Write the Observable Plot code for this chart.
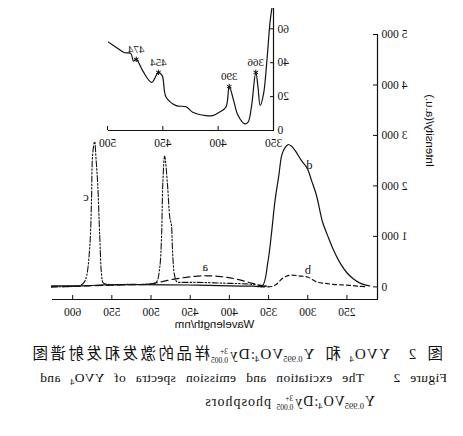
<!DOCTYPE html>
<html><head><meta charset="utf-8">
<script src="https://cdn.jsdelivr.net/npm/d3@7"></script>
<script src="https://cdn.jsdelivr.net/npm/@observablehq/plot@0.6"></script>
<style>
body{margin:0;background:#fff;}
#fig{position:relative;width:463px;height:436px;transform:scaleX(-1);background:#fff;overflow:hidden;}
#main,#inset{position:absolute;left:0;top:0;}
.cap{position:absolute;font-family:"Liberation Serif","Noto Sans CJK SC",serif;color:#111;white-space:nowrap;}
.zh{display:inline-block;font-family:"Noto Sans CJK SC",serif;letter-spacing:2.5px;font-size:15.5px;}
.ss{display:inline-block;vertical-align:middle;font-size:7.5px;text-align:left;margin:0 1px;letter-spacing:0;}
.ss span{display:block;line-height:9px;height:9px;}
sub{font-size:8.5px;vertical-align:-3px;line-height:0;letter-spacing:0;}
#c1{left:20px;top:343px;width:413px;font-size:15px;line-height:18px;letter-spacing:1.2px;text-align:justify;text-align-last:justify;}
#c2{left:16px;top:369px;width:407px;font-size:13.5px;line-height:18px;letter-spacing:0.3px;text-align:justify;text-align-last:justify;}
#c3{left:88px;top:393px;font-size:14px;line-height:18px;letter-spacing:1px;}
</style></head>
<body>
<div id="fig">
  <div id="main"></div>
  <div id="inset"></div>
  <div class="cap" id="c1"><span class="zh">图</span> 2 &nbsp;YVO<sub>4</sub> <span class="zh">和</span> Y<sub>0.995</sub>VO<sub>4</sub>:Dy<span class="ss"><span>3+</span><span>0.005</span></span><span class="zh">样品的激发和发射谱图</span></div>
  <div class="cap" id="c2">Figure 2 &nbsp; The excitation and emission spectra of YVO<sub>4</sub> and</div>
  <div class="cap" id="c3">Y<sub>0.995</sub>VO<sub>4</sub>:Dy<span class="ss"><span>3+</span><span>0.005</span></span> phosphors</div>
</div>
<script>
// ---- main chart data ----
const xTicks = [250, 300, 350, 400, 450, 500, 550, 600];
const yTicks = [0, 1000, 2000, 3000, 4000, 5000];

// curve a: YVO4 emission (dashed)
const aW = [627, 600, 580, 560, 540, 520, 502, 490, 472, 455, 440, 429, 415, 403, 390, 378, 368, 361, 352];
const aV = [0, 10, 20, 30, 40, 45, 55, 90, 150, 190, 215, 220, 210, 190, 150, 100, 60, 30, 10];
// curve b: YVO4 excitation (short dashes)
const bW = [360, 345, 340, 332, 323, 310, 300, 289, 278, 268, 257, 247, 236, 225];
const bV = [0, 10, 50, 170, 230, 215, 195, 100, 70, 50, 40, 30, 15, 0];
// curve c: Dy-doped emission (dash-dot-dot)
const cW = [627, 600, 591, 585, 582, 578, 576, 574.5, 572, 570, 568, 565.5, 563, 561, 555, 530, 500, 493, 489, 486.5, 485, 482.6, 479, 476, 474, 472.5, 470, 467, 460, 440, 420, 400, 380, 360, 350];
const cV = [0, 10, 20, 100, 230, 830, 1680, 2620, 2880, 2500, 2030, 1030, 230, 80, 50, 50, 60, 100, 370, 1030, 2030, 2590, 2030, 1370, 1230, 690, 230, 100, 90, 90, 80, 70, 60, 30, 10];
// curve d: Dy-doped excitation (solid)
const dW = [627, 600, 580, 560, 520, 480, 440, 400, 370, 358, 351, 346, 342, 337, 333, 329, 325, 321, 316, 308, 301, 295, 289, 281, 275, 268, 259, 250, 242, 234, 227, 221];
const dV = [20, 20, 25, 40, 45, 40, 35, 20, 15, 20, 480, 1100, 1680, 2200, 2620, 2760, 2820, 2790, 2700, 2500, 2360, 2100, 1820, 1280, 1030, 760, 480, 280, 160, 80, 40, 20];

const labelT = ["a", "b", "c", "d"];
const labelW = [431, 300, 583, 298];
const labelV = [390, 330, 1775, 2410];

// ---- inset data ----
const insXTicks = [350, 400, 450, 500];
const insYTicks = [0, 20, 40, 60];
const insW = [500, 492, 485, 479, 476.5, 474, 468, 460, 454, 450.6, 447, 438, 429, 423, 411, 405, 399, 393, 390, 386, 382, 376, 373, 370, 366, 364, 362, 359, 356, 353, 351];
const insV = [52.5, 49, 46, 45.5, 41, 42, 35, 28.4, 34.3, 32.4, 19.6, 14.7, 14, 10.8, 8.8, 8.8, 10.8, 13.7, 25.9, 17.6, 8.8, 3.9, 4.9, 13.7, 34.3, 25.5, 14.7, 21.6, 41, 64.7, 74];
const peakW = [474, 454, 390, 366];
const peakV = [42, 34.3, 25.9, 34.3];
const peakT = ["474", "454", "390", "366"];

const tbl = (W, V) => W.map((w, i) => ({w, v: V[i]}));
const ink = "#111";
const fmt = d => d3.format(",")(d).replace(",", " ");

const main = Plot.plot({
  width: 463, height: 335,
  marginLeft: 85, marginRight: 52, marginTop: 34, marginBottom: 36,
  style: {fontFamily: "Liberation Serif", fontSize: "11px", background: "transparent", color: ink},
  x: {domain: [211, 627]},
  y: {domain: [-250, 5000]},
  marks: [
    Plot.ruleX([211], {stroke: ink, strokeWidth: 1.2}),
    Plot.ruleY([-250], {stroke: ink, strokeWidth: 1.2}),
    Plot.axisX({ticks: xTicks, anchor: "bottom", tickSize: -4, tickPadding: 12, label: null, fontSize: 11.5}),
    Plot.axisY({ticks: yTicks, anchor: "left", tickSize: -5, tickPadding: 9, tickFormat: fmt, label: null, fontSize: 11.5}),
    Plot.line(tbl(aW, aV), {x: "w", y: "v", stroke: ink, strokeWidth: 1.2, strokeDasharray: "7,4", curve: "catmull-rom"}),
    Plot.line(tbl(bW, bV), {x: "w", y: "v", stroke: ink, strokeWidth: 1.2, strokeDasharray: "4,3", curve: "catmull-rom"}),
    Plot.line(tbl(cW, cV), {x: "w", y: "v", stroke: ink, strokeWidth: 1.1, strokeDasharray: "6,2,1.5,2,1.5,2", curve: "catmull-rom"}),
    Plot.line(tbl(dW, dV), {x: "w", y: "v", stroke: ink, strokeWidth: 1.2, curve: "catmull-rom"}),
    Plot.text(labelT, {x: (d, i) => labelW[i], y: (d, i) => labelV[i], text: d => d, fontSize: 12.5, fill: ink}),
    Plot.text(["Wavelength/nm"], {frameAnchor: "bottom", dy: 28, fontFamily: "Liberation Sans", fontSize: 11.5, fill: ink}),
    Plot.text(["Intensity/(a.u.)"], {frameAnchor: "left", dx: -52, rotate: -90, fontFamily: "Liberation Sans", fontSize: 11.5, fill: ink})
  ]
});
document.getElementById("main").append(main);

const inset = Plot.plot({
  width: 463, height: 335,
  marginLeft: 189, marginRight: 108, marginTop: 8, marginBottom: 205,
  style: {fontFamily: "Liberation Serif", fontSize: "11px", background: "transparent", color: ink},
  x: {domain: [350, 500]},
  y: {domain: [0, 72]},
  marks: [
    Plot.ruleX([350], {stroke: ink, strokeWidth: 1.2}),
    Plot.ruleY([0], {stroke: ink, strokeWidth: 1.2}),
    Plot.axisX({ticks: insXTicks, anchor: "bottom", tickSize: -4, tickPadding: 12, label: null, fontSize: 11.5}),
    Plot.axisY({ticks: insYTicks, anchor: "left", tickSize: -4, tickPadding: 8, label: null, fontSize: 11.5}),
    Plot.line(tbl(insW, insV), {x: "w", y: "v", stroke: ink, strokeWidth: 1.2, curve: "catmull-rom", clip: true}),
    Plot.dot(peakW, {x: d => d, y: (d, i) => peakV[i], symbol: "asterisk", r: 2.5, stroke: ink, strokeWidth: 1}),
    Plot.text(peakT, {x: (d, i) => peakW[i], y: (d, i) => peakV[i], text: d => d, dy: -10, fontSize: 11, fill: ink})
  ]
});
document.getElementById("inset").append(inset);
</script>
</body></html>
